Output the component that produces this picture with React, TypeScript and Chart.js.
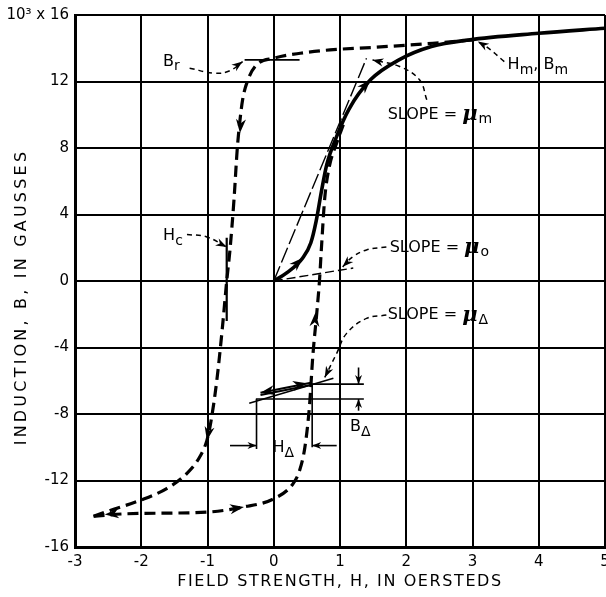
import { useEffect, useRef } from 'react';
import { Chart, registerables } from 'chart.js';

Chart.register(...registerables);

type Pt = { x: number; y: number };
const toPts = (a: number[][]): Pt[] => a.map(([x, y]) => ({ x, y }));

// Axis ranges / ticks
const X_MIN = -3, X_MAX = 5, X_STEP = 1;
const Y_MIN = -16, Y_MAX = 16, Y_STEP = 4;
const Y_TOP_LABEL = '10³ x 16';
const X_TITLE = 'FIELD STRENGTH, H, IN OERSTEDS';
const Y_TITLE = 'INDUCTION, B, IN GAUSSES';

// Hysteresis loop branches (H in oersteds, B in 10^3 gausses)
const descendingBranch = [
  [3.0, 14.5], [2.4, 14.3], [1.5, 14.05], [0.85, 13.9], [0.4, 13.7], [0, 13.4],
  [-0.26, 13.0], [-0.39, 12.1], [-0.47, 10.9], [-0.52, 9.3], [-0.55, 8.0],
  [-0.6, 4.9], [-0.66, 1.9], [-0.71, 0], [-0.78, -3.0], [-0.86, -6.0], [-0.95, -8.5],
  [-1.01, -9.6], [-1.12, -10.6], [-1.31, -11.57], [-1.61, -12.47], [-2.02, -13.2], [-2.47, -13.8], [-2.72, -14.15],
];
const ascendingBranch = [
  [-2.72, -14.15], [-2.22, -14.0], [-1.0, -13.9], [-0.47, -13.6], [0, -13.1],
  [0.29, -12.2], [0.39, -11.4], [0.47, -10.0], [0.54, -7.5], [0.59, -4.5],
  [0.65, -1.9], [0.69, 0], [0.72, 2.0], [0.77, 5.0], [0.84, 6.9], [0.95, 8.3], [1.05, 9.4],
];
const initialCurve = [
  [0, 0], [0.2, 0.5], [0.44, 1.4], [0.56, 2.3], [0.64, 3.6], [0.72, 5.4], [0.8, 7.0], [0.95, 8.7],
  [1.13, 10.3], [1.46, 12.1], [1.89, 13.3], [2.38, 14.1], [2.94, 14.5], [4.0, 14.9], [5.0, 15.2],
];

// Slope lines and measurement marks
const slopeMuM = [[0, 0], [1.4, 13.4]];
const slopeMu0 = [[0, 0], [1.2, 0.78]];
const slopeMuDelta = [[-0.37, -7.35], [0.9, -5.85]];
const minorLoopUpper = [[-0.2, -6.72], [0.56, -6.12]];
const minorLoopLower = [[-0.2, -6.86], [0.56, -6.26]];
const brMarker = [[-0.44, 13.3], [0.39, 13.3]];
const hcMarker = [[-0.71, 2.6], [-0.71, -2.4]];
const bDeltaTop = [[0.56, -6.2], [1.36, -6.2]];
const bDeltaBottom = [[-0.27, -7.1], [1.36, -7.1]];
const bDeltaArrowDown = [[1.28, -5.2], [1.28, -6.2]];
const bDeltaArrowUp = [[1.28, -7.8], [1.28, -7.1]];
const hDeltaLeft = [[-0.26, -7.1], [-0.26, -10.1]];
const hDeltaRight = [[0.58, -6.2], [0.58, -10.0]];
const hDeltaArrowL = [[-0.66, -9.9], [-0.26, -9.9]];
const hDeltaArrowR = [[0.95, -9.9], [0.58, -9.9]];

// Leader curves (end at arrow tip)
const leaderBr = [[-1.27, 12.8], [-0.89, 12.5], [-0.66, 12.65], [-0.47, 13.2]];
const leaderHc = [[-1.31, 2.8], [-1.01, 2.65], [-0.71, 2.05]];
const leaderHm = [[3.48, 13.2], [3.21, 14.1], [3.08, 14.4]];
const leaderMuM = [[2.31, 10.9], [2.2, 12.1], [1.9, 12.9], [1.49, 13.3]];
const leaderMu0 = [[1.7, 2.05], [1.4, 1.87], [1.19, 1.45], [1.04, 0.85]];
const leaderMuD = [[1.7, -2.05], [1.4, -2.25], [1.1, -3.15], [0.95, -4.35], [0.77, -5.8]];

// Arrowheads on curves: tip x, tip y, from x, from y
const curveArrows = [
  [0.44, 1.4, 0.3, 0.85],
  [1.46, 12.1, 1.3, 11.4],
  [-0.51, 8.9, -0.49, 10.0],
  [-1.01, -9.6, -0.96, -8.6],
  [-2.55, -14.05, -2.3, -13.95],
  [-0.45, -13.6, -0.7, -13.75],
  [0.63, -1.9, 0.6, -3.5],
  [-0.2, -6.72, 0.0, -6.57],
  [0.5, -6.15, 0.3, -6.31],
];

// Text labels: parts [text, kind] where n=normal, s=subscript, m=mu
const labelParts: [string, string][][] = [
  [['B', 'n'], ['r', 's']],
  [['H', 'n'], ['c', 's']],
  [['H', 'n'], ['m', 's'], [', B', 'n'], ['m', 's']],
  [['SLOPE = ', 'n'], ['μ', 'm'], ['m', 's']],
  [['SLOPE = ', 'n'], ['μ', 'm'], ['o', 's']],
  [['SLOPE = ', 'n'], ['μ', 'm'], ['Δ', 's']],
  [['H', 'n'], ['Δ', 's']],
  [['B', 'n'], ['Δ', 's']],
];
const labelAnchors = [
  [-1.67, 13.2], [-1.67, 2.7], [3.53, 13.0], [1.72, 10.0], [1.75, 2.0], [1.72, -2.05], [-0.02, -10.05], [1.15, -8.8],
];

const FONT = '"DejaVu Sans", "Liberation Sans", sans-serif';

const annotPlugin = {
  id: 'annot',
  afterDatasetsDraw(chart: any) {
    const { ctx } = chart;
    const xs = chart.scales.x, ys = chart.scales.y;
    const px = (v: number) => xs.getPixelForValue(v);
    const py = (v: number) => ys.getPixelForValue(v);
    ctx.save();
    ctx.fillStyle = '#000';
    const head = (tx: number, ty: number, fx: number, fy: number, len = 12, w = 4.5) => {
      const X = px(tx), Y = py(ty), FX = px(fx), FY = py(fy);
      const a = Math.atan2(Y - FY, X - FX);
      const c = Math.cos(a), s = Math.sin(a);
      ctx.beginPath();
      ctx.moveTo(X, Y);
      ctx.lineTo(X - len * c + w * s, Y - len * s - w * c);
      ctx.lineTo(X - len * 0.7 * c, Y - len * 0.7 * s);
      ctx.lineTo(X - len * c - w * s, Y - len * s + w * c);
      ctx.closePath();
      ctx.fill();
    };
    chart.data.datasets.forEach((ds: any) => {
      if (ds.arrowEnd) {
        const d = ds.data;
        const n = d.length;
        head(d[n - 1].x, d[n - 1].y, d[n - 2].x, d[n - 2].y, ds.arrowEnd[0], ds.arrowEnd[1]);
      }
    });
    curveArrows.forEach(([tx, ty, fx, fy]) => head(tx, ty, fx, fy, 14, 5));

    // labels
    ctx.textBaseline = 'middle';
    ctx.textAlign = 'left';
    labelParts.forEach((parts, i) => {
      let X = px(labelAnchors[i][0]);
      const Y = py(labelAnchors[i][1]);
      parts.forEach(([t, k]) => {
        let dy = 0;
        if (k === 'n') ctx.font = `16px ${FONT}`;
        else if (k === 's') { ctx.font = `14px ${FONT}`; dy = 5; }
        else ctx.font = `italic bold 21px "DejaVu Serif", serif`;
        ctx.fillText(t, X, Y + dy);
        X += ctx.measureText(t).width + (k === 'm' ? 1 : 0);
      });
    });
    ctx.restore();
  },
  afterDraw(chart: any) {
    const { ctx } = chart;
    ctx.save();
    ctx.fillStyle = '#000';
    ctx.textAlign = 'center';
    ctx.textBaseline = 'middle';
    ctx.font = `16px ${FONT}`;
    (ctx as any).letterSpacing = '1.6px';
    ctx.fillText(X_TITLE, 340, 582);
    (ctx as any).letterSpacing = '3.2px';
    ctx.translate(22, 297);
    ctx.rotate(-Math.PI / 2);
    ctx.fillText(Y_TITLE, 0, 0);
    ctx.restore();
  },
};

function line(data: number[][], width: number, dash: number[] = [], extra: any = {}) {
  return {
    data: toPts(data),
    showLine: true,
    borderColor: '#000',
    backgroundColor: '#000',
    borderWidth: width,
    borderDash: dash,
    pointRadius: 0,
    pointHoverRadius: 0,
    fill: false,
    tension: 0,
    ...extra,
  };
}

export default function App() {
  const ref = useRef<HTMLCanvasElement>(null);
  useEffect(() => {
    if (!ref.current) return;
    const thinDash = [5, 4];
    const smooth = { cubicInterpolationMode: 'monotone', tension: 0.4 };
    const datasets = [
      line(descendingBranch, 3.2, [11, 6], smooth),
      line(ascendingBranch, 3.2, [11, 6], smooth),
      line(initialCurve, 3.6, [], smooth),
      line(slopeMuM, 1.4, [16, 4]),
      line(slopeMu0, 1.4, [9, 4]),
      line(slopeMuDelta, 1.6),
      line(minorLoopUpper, 2),
      line(minorLoopLower, 2),
      line(brMarker, 1.6),
      line(hcMarker, 2.2),
      line(bDeltaTop, 1.6),
      line(bDeltaBottom, 1.6),
      line(bDeltaArrowDown, 1.6, [], { arrowEnd: [9, 3.5] }),
      line(bDeltaArrowUp, 1.6, [], { arrowEnd: [9, 3.5] }),
      line(hDeltaLeft, 1.6),
      line(hDeltaRight, 1.6),
      line(hDeltaArrowL, 1.6, [], { arrowEnd: [9, 3.5] }),
      line(hDeltaArrowR, 1.6, [], { arrowEnd: [9, 3.5] }),
      line(leaderBr, 1.5, thinDash, { tension: 0.4, arrowEnd: [11, 4] }),
      line(leaderHc, 1.5, thinDash, { tension: 0.4, arrowEnd: [11, 4] }),
      line(leaderHm, 1.5, thinDash, { tension: 0.4, arrowEnd: [11, 4] }),
      line(leaderMuM, 1.5, thinDash, { tension: 0.4, arrowEnd: [11, 4] }),
      line(leaderMu0, 1.5, thinDash, { tension: 0.4, arrowEnd: [11, 4] }),
      line(leaderMuD, 1.5, thinDash, { tension: 0.4, arrowEnd: [11, 4] }),
    ];
    const chart = new Chart(ref.current, {
      type: 'scatter',
      data: { datasets: datasets as any },
      options: {
        animation: false,
        responsive: false,
        maintainAspectRatio: false,
        layout: { padding: { top: 15, right: 1, left: 0, bottom: 0 } },
        plugins: { legend: { display: false }, tooltip: { enabled: false } },
        events: [],
        scales: {
          x: {
            type: 'linear',
            min: X_MIN,
            max: X_MAX,
            ticks: { stepSize: X_STEP, color: '#000', padding: 6, font: { family: FONT, size: 15 } },
            grid: { color: '#000', lineWidth: 2, drawTicks: false },
            border: { display: true, color: '#000', width: 3 },
            afterFit: (s: any) => { s.height = 50; s.paddingLeft = 0; s.paddingRight = 0; },
          },
          y: {
            type: 'linear',
            min: Y_MIN,
            max: Y_MAX,
            ticks: {
              stepSize: Y_STEP,
              color: '#000',
              padding: 6,
              font: { family: FONT, size: 15 },
              callback: (v: any) => (Number(v) === Y_MAX ? Y_TOP_LABEL : String(v)),
            },
            grid: { color: '#000', lineWidth: 2, drawTicks: false },
            border: { display: true, color: '#000', width: 3 },
            afterFit: (s: any) => { s.width = 75; s.paddingTop = 0; s.paddingBottom = 0; },
          },
        },
      },
      plugins: [annotPlugin],
    });
    return () => chart.destroy();
  }, []);
  return (
    <div style={{ position: 'fixed', left: 0, top: 0, width: 606, height: 597, background: '#fff' }}>
      <canvas ref={ref} width={606} height={597} style={{ display: 'block' }} />
    </div>
  );
}
